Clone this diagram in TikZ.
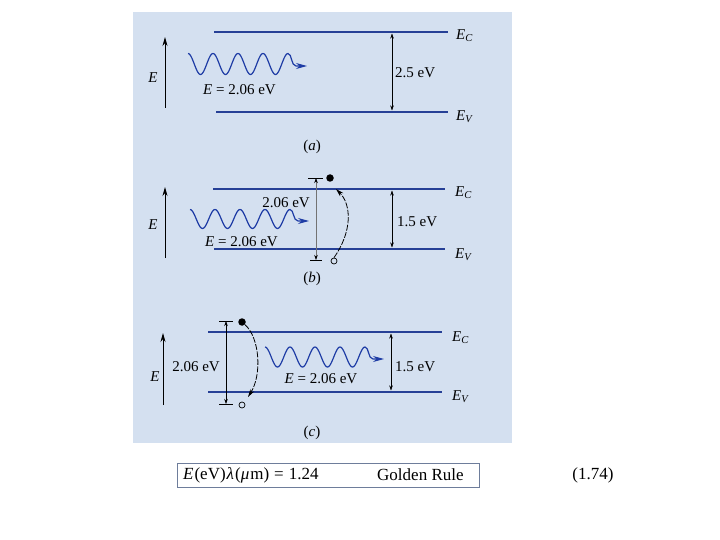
\documentclass[tikz,border=0pt]{standalone}
\usepackage{fontspec}
\setmainfont{Liberation Serif}
\usetikzlibrary{arrows.meta}
\definecolor{panelbg}{RGB}{212,224,240}
\definecolor{band}{RGB}{38,64,150}
\definecolor{wavec}{RGB}{30,60,165}
\definecolor{boxc}{RGB}{110,125,155}
\newcommand{\photonwave}[3]{%
  \draw[wavepath] plot[domain=0:100,samples=101,smooth] ({#1+\x},{#2-#3*cos(14.4*\x)})
    .. controls ({#1+104},{#2-#3}) and ({#1+103},{#2+2}) .. ({#1+108},{#2+2}) -- ({#1+119},{#2+2});}
\begin{document}
\begin{tikzpicture}[x=1pt,y=-1pt,
  bandline/.style={band,line width=2.8pt},
  eaxis/.style={black,line width=0.8pt,-{Stealth[length=9pt,width=5pt]}},
  dimarrow/.style={black,line width=0.5pt,{Stealth[length=5pt,width=3.5pt]}-{Stealth[length=5pt,width=3.5pt]}},
  faintdim/.style={black!55,line width=0.5pt,{Stealth[length=5pt,width=3.5pt,black]}-{Stealth[length=5pt,width=3.5pt,black]}},
  bar/.style={black,line width=0.5pt},
  trans/.style={black,line width=0.8pt,dash pattern=on 6pt off 1.5pt,-{Stealth[length=8pt,width=4.5pt]}},
  lbl/.style={inner sep=0pt,font=\fontsize{15}{17}\selectfont},
  wavepath/.style={wavec,line width=1.2pt,-{Stealth[length=11pt,width=6pt]}},
  electron/.style={circle,fill=black,inner sep=0pt,minimum size=7.5pt},
  hole/.style={circle,draw=black,line width=0.7pt,inner sep=0pt,minimum size=6pt}]
\useasboundingbox (0,0) rectangle (720,540);
\fill[white] (0,0) rectangle (720,540);
\fill[panelbg] (133,12) rectangle (512,443);

% ---------- panel (a) ----------
\coordinate (aC1) at (214,32); \coordinate (aC2) at (448,32);
\coordinate (aV1) at (216,112); \coordinate (aV2) at (448,112);
\draw[bandline] (aC1) -- (aC2);
\draw[bandline] (aV1) -- (aV2);
\coordinate (aEb) at (165,108); \coordinate (aEt) at (165,37);
\draw[eaxis] (aEb) -- (aEt);
\node[lbl] (aE) at (153,78) {\textit{E}};
\coordinate (aDt) at (392,33.5); \coordinate (aDb) at (392,110.5);
\draw[dimarrow] (aDt) -- (aDb);
\node[lbl,anchor=west] (agap) at (395,73) {2.5 eV};
\node[lbl,anchor=west] (aEC) at (456,36) {\textit{E}\textsubscript{\textit{C}}};
\node[lbl,anchor=west] (aEV) at (456,117) {\textit{E}\textsubscript{\textit{V}}};
\photonwave{188}{64}{10.5}
\node[lbl,anchor=west] (aph) at (203,90) {\textit{E} = 2.06 eV};
\node[lbl] (acap) at (312,147) {(\textit{a})};

% ---------- panel (b) ----------
\coordinate (bC1) at (213,189); \coordinate (bC2) at (445,189);
\coordinate (bV1) at (214,249); \coordinate (bV2) at (445,249);
\draw[bandline] (bC1) -- (bC2);
\draw[bandline] (bV1) -- (bV2);
\coordinate (bEb) at (165,258); \coordinate (bEt) at (165,187);
\draw[eaxis] (bEb) -- (bEt);
\node[lbl] (bE) at (153,225) {\textit{E}};
\coordinate (bDt) at (392,190.5); \coordinate (bDb) at (392,247.5);
\draw[dimarrow] (bDt) -- (bDb);
\node[lbl,anchor=west] (bgap) at (397,222) {1.5 eV};
\node[lbl,anchor=west] (bEC) at (455,193) {\textit{E}\textsubscript{\textit{C}}};
\node[lbl,anchor=west] (bEV) at (455,255) {\textit{E}\textsubscript{\textit{V}}};
\photonwave{190}{219}{9.5}
\node[lbl] (bph2) at (286,203) {2.06 eV};
\node[lbl,anchor=west] (bph) at (205,242) {\textit{E} = 2.06 eV};
\coordinate (bTt) at (316,178); \coordinate (bTb) at (316,260);
\draw[bar] (308,178) -- (323,178);
\draw[bar] (310,260) -- (322,260);
\draw[faintdim] (bTt) -- (bTb);
\node[electron] (bel) at (330,178) {};
\node[hole] (bho) at (334,261) {};
\coordinate (bend) at (336,189);
\draw[trans] (bho.north) .. controls (352,232) and (352,205) .. (bend);
\node[lbl] (bcap) at (312,279) {(\textit{b})};

% ---------- panel (c) ----------
\coordinate (cC1) at (208,332); \coordinate (cC2) at (442,332);
\coordinate (cV1) at (208,392); \coordinate (cV2) at (442,392);
\draw[bandline] (cC1) -- (cC2);
\draw[bandline] (cV1) -- (cV2);
\coordinate (cEb) at (163,405); \coordinate (cEt) at (163,333);
\draw[eaxis] (cEb) -- (cEt);
\node[lbl] (cE) at (155,377) {\textit{E}};
\coordinate (cDt) at (391,333.5); \coordinate (cDb) at (391,390.5);
\draw[dimarrow] (cDt) -- (cDb);
\node[lbl,anchor=west] (cgap) at (395,367) {1.5 eV};
\node[lbl,anchor=west] (cEC) at (452,338) {\textit{E}\textsubscript{\textit{C}}};
\node[lbl,anchor=west] (cEV) at (452,397) {\textit{E}\textsubscript{\textit{V}}};
\coordinate (cTt) at (226,321); \coordinate (cTb) at (226,404);
\draw[bar] (219,321) -- (233,321);
\draw[bar] (219,404) -- (233,404);
\draw[dimarrow] (cTt) -- (cTb);
\node[lbl] (cdim) at (196,367) {2.06 eV};
\node[electron] (cel) at (242,322) {};
\node[hole] (cho) at (242,405) {};
\coordinate (cend) at (248,397);
\draw[trans] (cel) .. controls (260,338) and (262,375) .. (cend);
\photonwave{265}{357}{10}
\node[lbl] (cph) at (321,379) {\textit{E} = 2.06 eV};
\node[lbl] (ccap) at (312,433) {(\textit{c})};

% ---------- equation ----------
\draw[boxc,line width=1pt] (177,463) rectangle (479,487);
\node[inner sep=0pt,anchor=west,font=\fontsize{17}{19}\selectfont] (eq) at (183,475)
  {\textit{E}\kern1pt(eV)\kern1pt\textit{λ}\kern1pt(\textit{μ}\kern1pt m)\hspace{5pt}=\hspace{5pt}1.24};
\node[inner sep=0pt,anchor=west,font=\fontsize{17}{19}\selectfont] (gr) at (377,475) {Golden Rule};
\node[inner sep=0pt,font=\fontsize{17}{19}\selectfont] (eqno) at (593,475) {(1.74)};
\end{tikzpicture}
\end{document}
